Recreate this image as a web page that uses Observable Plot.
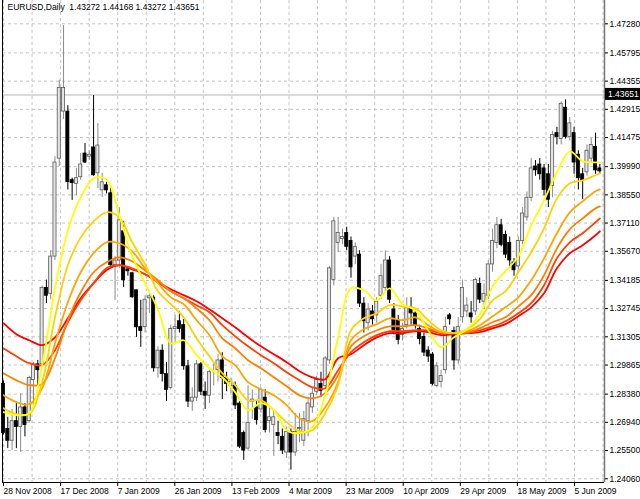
<!DOCTYPE html>
<html><head><meta charset="utf-8">
<script src="https://cdn.jsdelivr.net/npm/d3@7"></script>
<script src="https://cdn.jsdelivr.net/npm/@observablehq/plot@0.6"></script>
<style>
html,body{margin:0;padding:0;background:#fff;}
#chart{width:640px;height:499px;}
</style></head><body><div id="chart"></div>
<script>
// ---- data ----
const symbolName = "EURUSD,Daily";
const lastBarOHLC = [1.43272, 1.44168, 1.43272, 1.43651];
const bidPrice = 1.43651;

const opens = [1.2890,1.2660,1.2600,1.2700,1.2670,1.2770,1.2700,1.2910,1.2990,1.2990,1.3380,1.3350,1.3540,1.4040,1.4280,1.4280,1.3930,1.3910,1.3945,1.4066,1.4050,1.4097,1.3965,1.3878,1.3904,1.3863,1.3496,1.3520,1.3669,1.3475,1.3455,1.3368,1.3180,1.3180,1.3327,1.3330,1.2970,1.3060,1.2940,1.2870,1.3170,1.3210,1.3190,1.2980,1.2800,1.2820,1.2990,1.2850,1.2830,1.2950,1.2960,1.3010,1.2920,1.2880,1.2880,1.2790,1.2640,1.2560,1.2800,1.2770,1.2760,1.2820,1.2700,1.2680,1.2640,1.2620,1.2540,1.2645,1.2540,1.2660,1.2600,1.2700,1.2770,1.2850,1.2890,1.2880,1.3010,1.3420,1.3610,1.3630,1.3660,1.3620,1.3540,1.3550,1.3300,1.3200,1.3260,1.3240,1.3340,1.3380,1.3520,1.3270,1.3215,1.3140,1.3190,1.3280,1.3250,1.3170,1.3130,1.3060,1.3040,1.2880,1.2900,1.2960,1.3240,1.3160,1.3010,1.3230,1.3260,1.3250,1.3260,1.3400,1.3310,1.3340,1.3500,1.3610,1.3700,1.3650,1.3610,1.3510,1.3490,1.3620,1.3740,1.3840,1.4000,1.4010,1.3990,1.3960,1.3900,1.4170,1.4140,1.4300,1.4150,1.4170,1.4060,1.3960,1.3970,1.4040,1.4100,1.3990];
const highs = [1.2905,1.2720,1.2760,1.2790,1.2840,1.2790,1.2930,1.3000,1.3010,1.3390,1.3420,1.3570,1.4050,1.4440,1.4719,1.4310,1.3940,1.3990,1.4066,1.4117,1.4080,1.4362,1.4219,1.3965,1.3919,1.3890,1.3540,1.3790,1.3720,1.3490,1.3460,1.3368,1.3317,1.3340,1.3350,1.3340,1.3080,1.3090,1.3000,1.3190,1.3240,1.3260,1.3220,1.3010,1.2870,1.3010,1.3000,1.2900,1.2960,1.3000,1.3040,1.3050,1.2950,1.2920,1.2900,1.2800,1.2650,1.2880,1.2860,1.2800,1.2870,1.2860,1.2770,1.2760,1.2700,1.2660,1.2670,1.2660,1.2740,1.2740,1.2750,1.2810,1.2870,1.2930,1.2950,1.3030,1.3490,1.3740,1.3740,1.3680,1.3690,1.3640,1.3610,1.3570,1.3330,1.3300,1.3290,1.3330,1.3500,1.3570,1.3540,1.3300,1.3240,1.3200,1.3330,1.3330,1.3270,1.3190,1.3150,1.3080,1.3050,1.3000,1.2960,1.3230,1.3250,1.3180,1.3230,1.3420,1.3330,1.3310,1.3430,1.3430,1.3400,1.3520,1.3680,1.3740,1.3730,1.3670,1.3640,1.3530,1.3640,1.3790,1.3870,1.4040,1.4030,1.4040,1.4010,1.4010,1.4180,1.4200,1.4330,1.4340,1.4250,1.4200,1.4080,1.3990,1.4110,1.4143,1.4170,1.4010];
const lows = [1.2630,1.2560,1.2550,1.2560,1.2540,1.2620,1.2690,1.2780,1.2880,1.2980,1.3300,1.3320,1.3520,1.4000,1.4240,1.3880,1.3827,1.3850,1.3929,1.4015,1.4030,1.3950,1.3888,1.3842,1.3860,1.3480,1.3316,1.3480,1.3383,1.3440,1.3327,1.3128,1.3077,1.3150,1.3250,1.2950,1.2920,1.2900,1.2800,1.2860,1.3100,1.3150,1.2960,1.2770,1.2750,1.2800,1.2830,1.2760,1.2790,1.2880,1.2900,1.2810,1.2850,1.2840,1.2760,1.2560,1.2500,1.2550,1.2710,1.2680,1.2740,1.2640,1.2640,1.2520,1.2580,1.2530,1.2510,1.2450,1.2520,1.2590,1.2570,1.2620,1.2740,1.2830,1.2820,1.2870,1.2990,1.3390,1.3560,1.3600,1.3570,1.3430,1.3500,1.3280,1.3150,1.3160,1.3190,1.3200,1.3320,1.3360,1.3300,1.3140,1.3090,1.3110,1.3170,1.3190,1.3170,1.3090,1.3030,1.3000,1.2880,1.2870,1.2870,1.2940,1.3190,1.2960,1.2990,1.3200,1.3230,1.3200,1.3240,1.3300,1.3270,1.3320,1.3460,1.3580,1.3590,1.3530,1.3480,1.3440,1.3470,1.3600,1.3720,1.3820,1.3950,1.3930,1.3850,1.3790,1.3840,1.4110,1.4110,1.4140,1.4130,1.3960,1.3880,1.3830,1.3950,1.4020,1.3960,1.3960];
const closes = [1.2640,1.2600,1.2700,1.2670,1.2770,1.2680,1.2920,1.2990,1.2960,1.3380,1.3340,1.3540,1.4020,1.4400,1.4400,1.3920,1.3915,1.3940,1.4010,1.4020,1.4060,1.3955,1.4107,1.3919,1.3878,1.3496,1.3520,1.3725,1.3419,1.3465,1.3332,1.3179,1.3160,1.3320,1.3337,1.2970,1.3060,1.2940,1.2860,1.3170,1.3180,1.3170,1.2980,1.2800,1.2820,1.2990,1.2850,1.2830,1.2950,1.2950,1.3010,1.2920,1.2890,1.2900,1.2780,1.2570,1.2550,1.2690,1.2810,1.2705,1.2860,1.2655,1.2720,1.2720,1.2625,1.2550,1.2645,1.2540,1.2645,1.2665,1.2710,1.2790,1.2840,1.2910,1.2855,1.3020,1.3480,1.3720,1.3660,1.3640,1.3590,1.3485,1.3590,1.3300,1.3210,1.3270,1.3220,1.3310,1.3440,1.3520,1.3320,1.3165,1.3115,1.3170,1.3280,1.3250,1.3190,1.3120,1.3050,1.3030,1.2890,1.2980,1.2930,1.3180,1.3220,1.3010,1.3180,1.3380,1.3290,1.3230,1.3420,1.3320,1.3350,1.3500,1.3620,1.3700,1.3600,1.3550,1.3520,1.3470,1.3620,1.3760,1.3840,1.3990,1.3980,1.3960,1.3880,1.3830,1.4160,1.4150,1.4320,1.4150,1.4220,1.4020,1.3940,1.3930,1.4080,1.4110,1.3980,1.3975];

// moving averages, read at every third bar
const maBars = [0,3,6,9,12,15,18,21,24,27,30,33,36,39,42,45,48,51,54,57,60,63,66,69,72,75,78,81,84,87,90,93,96,99,102,105,108,111,114,117,120,123,126,129,132,135,138,139];
const maYellow = [1.2746,1.2731,1.2741,1.2986,1.3378,1.3674,1.3842,1.3939,1.3934,1.3750,1.3541,1.3404,1.3271,1.3098,1.3113,1.3037,1.2970,1.2924,1.2848,1.2756,1.2792,1.2756,1.2654,1.2639,1.2670,1.2832,1.3128,1.3378,1.3368,1.3317,1.3378,1.3297,1.3266,1.3164,1.3077,1.3128,1.3169,1.3246,1.3388,1.3465,1.3541,1.3699,1.3827,1.3970,1.4077,1.4026,1.4021,1.4021];
const maGold = [1.2766,1.2736,1.2736,1.2899,1.3230,1.3496,1.3638,1.3720,1.3766,1.3740,1.3613,1.3501,1.3363,1.3297,1.3230,1.3123,1.3031,1.2945,1.2884,1.2807,1.2807,1.2756,1.2695,1.2649,1.2654,1.2741,1.2884,1.3164,1.3225,1.3251,1.3292,1.3286,1.3276,1.3215,1.3164,1.3149,1.3169,1.3220,1.3317,1.3363,1.3460,1.3562,1.3684,1.3837,1.3914,1.3929,1.3955,1.3965];
const maOrange = [1.2832,1.2797,1.2787,1.2868,1.3098,1.3307,1.3460,1.3557,1.3613,1.3608,1.3567,1.3480,1.3404,1.3332,1.3297,1.3215,1.3139,1.3031,1.2986,1.2899,1.2863,1.2832,1.2782,1.2715,1.2700,1.2771,1.2899,1.3113,1.3169,1.3195,1.3225,1.3215,1.3230,1.3190,1.3154,1.3149,1.3159,1.3190,1.3235,1.3281,1.3332,1.3419,1.3531,1.3659,1.3766,1.3822,1.3873,1.3883];
const maDarkOrange = [1.2945,1.2909,1.2884,1.2889,1.3021,1.3215,1.3358,1.3460,1.3511,1.3536,1.3516,1.3470,1.3419,1.3363,1.3327,1.3276,1.3215,1.3123,1.3072,1.3011,1.2970,1.2924,1.2878,1.2832,1.2817,1.2843,1.2935,1.3082,1.3133,1.3164,1.3184,1.3184,1.3190,1.3174,1.3154,1.3149,1.3154,1.3174,1.3205,1.3230,1.3286,1.3343,1.3445,1.3582,1.3679,1.3735,1.3786,1.3796];
const maOrangeRed = [1.3072,1.3031,1.2996,1.2986,1.3062,1.3205,1.3317,1.3404,1.3480,1.3496,1.3480,1.3450,1.3409,1.3363,1.3327,1.3292,1.3256,1.3190,1.3133,1.3082,1.3037,1.2996,1.2950,1.2909,1.2873,1.2868,1.2960,1.3052,1.3103,1.3139,1.3159,1.3159,1.3164,1.3164,1.3149,1.3149,1.3149,1.3164,1.3184,1.3210,1.3251,1.3302,1.3394,1.3531,1.3613,1.3659,1.3715,1.3735];
const maRed = [1.3200,1.3144,1.3113,1.3088,1.3128,1.3225,1.3327,1.3404,1.3470,1.3496,1.3475,1.3450,1.3409,1.3373,1.3343,1.3312,1.3271,1.3225,1.3179,1.3128,1.3082,1.3042,1.3001,1.2955,1.2924,1.2914,1.3021,1.3042,1.3088,1.3128,1.3149,1.3149,1.3159,1.3154,1.3139,1.3144,1.3149,1.3154,1.3174,1.3195,1.3236,1.3281,1.3353,1.3480,1.3557,1.3598,1.3649,1.3669];
const maColors = ["#ffff00","#ffd200","#ffa500","#ff8000","#ff4000","#ff0000"];

const yTickValues = [1.47280,1.45795,1.44355,1.42915,1.41475,1.39990,1.38550,1.37110,1.35670,1.34185,1.32745,1.31305,1.29865,1.28380,1.26940,1.25500,1.24060];
const xTickLabels = ["28 Nov 2008","17 Dec 2008","7 Jan 2009","26 Jan 2009","13 Feb 2009","4 Mar 2009","23 Mar 2009","10 Apr 2009","29 Apr 2009","18 May 2009","5 Jun 2009"];
const barsPerLabel = 13.31;

// ---- build ----
const bars = closes.map((c, i) => ({i, open: opens[i], high: highs[i], low: lows[i], close: c}));
const upBars = bars.filter(d => d.close >= d.open);
const downBars = bars.filter(d => d.close < d.open);
const maSeries = [maRed, maOrangeRed, maDarkOrange, maOrange, maGold, maYellow];
const maColorsDraw = [maColors[5], maColors[4], maColors[3], maColors[2], maColors[1], maColors[0]];
const xDomain = [-0.233, 140.09];
const yDomain = [1.2387, 1.4847];
const xTicks = xTickLabels.map((_, k) => k * barsPerLabel);
const xGrid = d3.range(0, 22).map(k => k * barsPerLabel / 2);
const labelAt = new Map(xTicks.map((t, k) => [t, xTickLabels[k]]));
const header = symbolName + "  " + lastBarOHLC.map(v => v.toFixed(5)).join(" ");
const font = "Liberation Sans, Arial, sans-serif";

const chart = Plot.plot({
  width: 640, height: 499,
  marginTop: 0, marginBottom: 17, marginLeft: 2, marginRight: 36,
  style: {fontFamily: font, fontSize: "8.5px", color: "#000", background: "#fff", overflow: "visible"},
  x: {type: "linear", domain: xDomain, axis: null, label: null},
  y: {domain: yDomain, axis: null, label: null},
  marks: [
    Plot.ruleY(yTickValues, {stroke: "#c4c4c4", strokeDasharray: "3,3"}),
    Plot.ruleX(xGrid, {stroke: "#c4c4c4", strokeDasharray: "3,3"}),
    Plot.ruleY([bidPrice], {stroke: "#cfcfcf", strokeWidth: 1.5}),
    Plot.ruleX(upBars, {x: "i", y1: "low", y2: "high", stroke: "#8a8a8a"}),
    Plot.ruleX(downBars, {x: "i", y1: "low", y2: "high", stroke: "#000"}),
    Plot.rect(upBars, {x1: d => d.i - 0.36, x2: d => d.i + 0.36, y1: "open", y2: "close", fill: "#e4e4e4", stroke: "#5a5a5a", strokeWidth: 0.8}),
    Plot.rect(downBars, {x1: d => d.i - 0.36, x2: d => d.i + 0.36, y1: "open", y2: "close", fill: "#000", stroke: "#000", strokeWidth: 0.8}),
    ...maSeries.map((vals, s) => Plot.line(maBars.map((b, k) => ({i: b, v: vals[k]})), {x: "i", y: "v", stroke: maColorsDraw[s], strokeWidth: 1.8, curve: "catmull-rom"})),
    Plot.ruleY([yDomain[0]], {stroke: "#000", strokeWidth: 1.2}),
    Plot.ruleX([xDomain[0]], {stroke: "#000"}),
    Plot.ruleX([xDomain[1]], {stroke: "#777", strokeWidth: 1.5}),
    Plot.axisY(yTickValues, {anchor: "right", label: null, tickSize: 3, tickPadding: 2, tickFormat: d => d.toFixed(5), fontSize: 8.5}),
    Plot.axisX(xTicks, {anchor: "bottom", label: null, tickSize: 4, tickPadding: 1, tickFormat: d => labelAt.get(d), textAnchor: "start", dx: 0, fontSize: 8.5}),
    Plot.text([header], {frameAnchor: "top-left", dx: 5, dy: 3, lineAnchor: "top", textAnchor: "start", fontSize: 8.5, fill: "#000"})
  ]
});

// current-price label on the price axis
const ys = chart.scale("y").apply(bidPrice);
const xr = chart.scale("x").apply(xDomain[1]);
const g = d3.select(chart).append("g");
g.append("rect").attr("x", xr + 1).attr("y", ys - 6.5).attr("width", 35).attr("height", 12).attr("fill", "#000");
g.append("text").attr("x", xr + 4).attr("y", ys).attr("dy", "0.35em").attr("fill", "#fff")
  .attr("text-anchor", "start")
  .style("font-family", font).style("font-size", "8.5px").text(bidPrice.toFixed(5));

document.getElementById("chart").appendChild(chart);
</script>
</body></html>
